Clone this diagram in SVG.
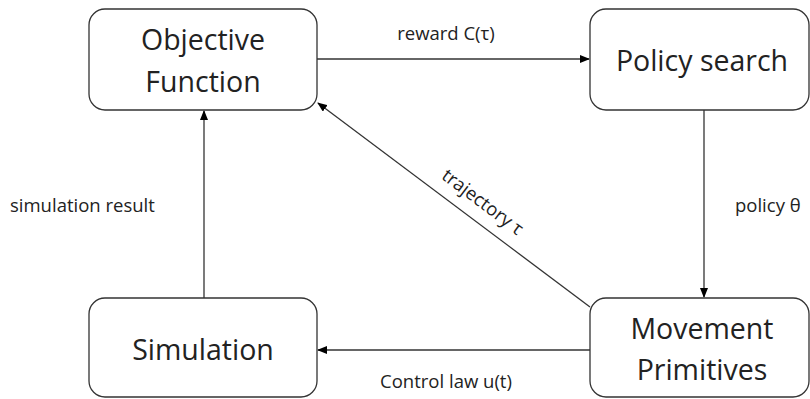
<svg xmlns="http://www.w3.org/2000/svg" width="810" height="399" viewBox="0 0 810 399">
<defs>
<marker id="ah" markerWidth="10" markerHeight="8" refX="9" refY="4" orient="auto" markerUnits="userSpaceOnUse">
<path d="M0,0 L10,4 L0,8 Z" fill="#000"/>
</marker>
<style>
.box{fill:#fff;stroke:#333;stroke-width:1.3}
.big{font-family:"Open Sans","Liberation Sans",sans-serif;font-size:28.5px;fill:#222;text-anchor:middle}
.lbl{font-family:"Open Sans","Liberation Sans",sans-serif;font-size:18.5px;fill:#222}
.cn{stroke:#333;stroke-width:1.3;fill:none;marker-end:url(#ah)}
</style>
</defs>
<rect width="810" height="399" fill="#fff"/>
<g id="connectors">
<line class="cn" x1="317" y1="59" x2="589" y2="59"/>
<line class="cn" x1="704" y1="110" x2="704" y2="297"/>
<line class="cn" x1="590" y1="350" x2="318" y2="350"/>
<line class="cn" x1="204" y1="298" x2="204" y2="111"/>
<line class="cn" x1="590" y1="307" x2="318" y2="103"/>
<text class="lbl" x="446" y="40" text-anchor="middle">reward C(τ)</text>
<text class="lbl" x="735" y="212">policy θ</text>
<text class="lbl" x="446" y="388" text-anchor="middle">Control law u(t)</text>
<text class="lbl" x="10" y="212">simulation result</text>
<text class="lbl" x="0" y="0" text-anchor="middle" transform="translate(479,207) rotate(36.9)">trajectory τ</text>
</g>
<g id="objective">
<rect class="box" x="89" y="9" width="228" height="101" rx="16"/>
<text class="big" x="203" y="50">Objective</text>
<text class="big" x="203" y="92">Function</text>
</g>
<g id="policy">
<rect class="box" x="590" y="9" width="219" height="101" rx="16"/>
<text class="big" x="702" y="71">Policy search</text>
</g>
<g id="simulation">
<rect class="box" x="89" y="298" width="228" height="99" rx="16"/>
<text class="big" x="203" y="360">Simulation</text>
</g>
<g id="movement">
<rect class="box" x="590" y="298" width="219" height="99" rx="16"/>
<text class="big" x="702" y="339">Movement</text>
<text class="big" x="702" y="380">Primitives</text>
</g>
</svg>
